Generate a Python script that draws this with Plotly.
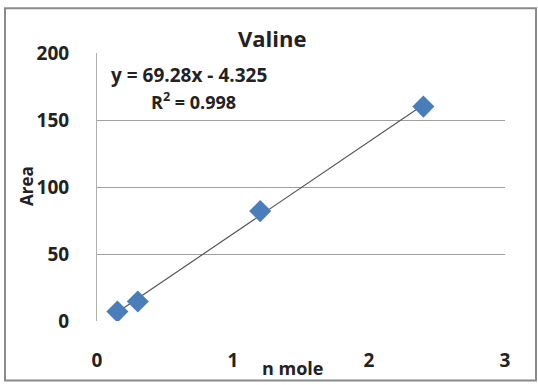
import numpy as np
import plotly.graph_objects as go

# Data
x_nmole = [0.15, 0.30, 1.20, 2.40]
y_area = [7.0, 14.5, 82.0, 160.0]
x_ticks = [0, 1, 2, 3]
y_ticks = [0, 50, 100, 150, 200]
title_text = "Valine"
eq_text = "y = 69.28x - 4.325"
r2_text = "R<sup>2</sup> = 0.998"
x_title = "n mole"
y_title = "Area"

W, H = 538, 385
L, R, T, B = 97, 505, 53, 323  # plot area in pixels

def px(xp):
    return (xp - L) / (R - L)

def py(yp):
    return (B - yp) / (B - T)

slope, intercept = np.polyfit(x_nmole, y_area, 1)
xl = [min(x_nmole), max(x_nmole)]
yl = [slope * v + intercept for v in xl]

font = "Open Sans"
tc = "#222222"

fig = go.Figure()
fig.add_trace(go.Scatter(x=xl, y=yl, mode="lines",
                         line=dict(color="#555555", width=1.2), hoverinfo="skip"))
fig.add_trace(go.Scatter(x=x_nmole, y=y_area, mode="markers",
                         marker=dict(symbol="diamond", size=17, color="#4A7EBB",
                                     line=dict(width=0))))

fig.update_layout(
    width=W, height=H,
    margin=dict(l=L, r=W - R, t=T, b=H - B, pad=0),
    paper_bgcolor="white", plot_bgcolor="white",
    showlegend=False,
    font=dict(family=font, color=tc),
    xaxis=dict(range=[0, 3], tickvals=x_ticks, showgrid=False, zeroline=False,
               showline=False, ticks="", ticklabelstandoff=26,
               tickfont=dict(size=19, family=font, color=tc, weight="bold")),
    yaxis=dict(range=[0, 200], tickvals=y_ticks, showgrid=True, gridcolor="#a0a0a0",
               gridwidth=1, zeroline=False, showline=True, linecolor="#b0b0b0",
               linewidth=1, ticks="", ticklabelstandoff=23,
               tickfont=dict(size=19, family=font, color=tc, weight="bold")),
)

fig.add_annotation(text="<b>" + title_text + "</b>", x=px(272), y=py(38), xref="paper",
                   yref="paper", showarrow=False, xanchor="center", yanchor="middle",
                   font=dict(size=22, family=font, color=tc))
fig.add_annotation(text="<b>" + x_title + "</b>", x=px(292), y=py(370), xref="paper",
                   yref="paper", showarrow=False, xanchor="center", yanchor="middle",
                   font=dict(size=18, family=font, color=tc))
fig.add_annotation(text="<b>" + y_title + "</b>", x=px(26), y=py(187), xref="paper",
                   yref="paper", showarrow=False, textangle=-90,
                   font=dict(size=17, family=font, color=tc), xanchor="center", yanchor="middle")
fig.add_annotation(text="<b>" + eq_text + "</b>", x=px(109), y=py(75), xref="paper",
                   yref="paper", showarrow=False, xanchor="left", yanchor="middle",
                   font=dict(size=19, family=font, color=tc))
fig.add_annotation(text="<b>" + r2_text + "</b>", x=px(193), y=py(101), xref="paper",
                   yref="paper", showarrow=False, xanchor="center", yanchor="middle",
                   font=dict(size=18, family=font, color=tc))

# outer frame
fig.add_shape(type="rect", xref="paper", yref="paper",
              x0=px(5), x1=px(536), y0=py(383), y1=py(8),
              line=dict(color="#8a8a8a", width=2), layer="below")

fig.write_html("out.html", config={"displayModeBar": False},
               post_script="document.body.style.margin='0';")
